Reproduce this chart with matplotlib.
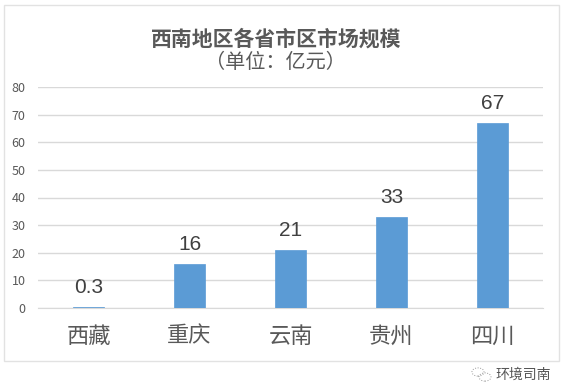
import matplotlib
matplotlib.use('Agg')
import matplotlib.pyplot as plt
from matplotlib.patches import Rectangle, Circle

plt.rcParams['font.family'] = ['Noto Sans CJK SC', 'DejaVu Sans']

provinces = ['西藏', '重庆', '云南', '贵州', '四川']
market_size = [0.3, 16, 21, 33, 67]
value_labels = ['0.3', '16', '21', '33', '67']
y_ticks = [0, 10, 20, 30, 40, 50, 60, 70, 80]

W, H = 562, 387
fig = plt.figure(figsize=(W / 100, H / 100), dpi=100, facecolor='white')

# outer chart frame
fig.add_artist(Rectangle((3.5 / W, 1 - 361 / H), 555 / W, 356 / H, transform=fig.transFigure,
                         fill=False, edgecolor='#e2e2e2', lw=1))

ax = fig.add_axes([38 / W, 1 - 308 / H, 505 / W, 221 / H])
ax.bar(range(5), market_size, width=0.307, color='#5b9bd5', edgecolor='#5b9bd5', lw=0.5, zorder=3)
ax.set_xlim(-0.5, 4.5)
ax.set_ylim(0, 80)
ax.set_yticks(y_ticks)
ax.set_xticks(range(5))
ax.set_xticklabels(provinces, fontsize=16, color='#595959')
ax.tick_params(axis='x', length=0, pad=12)
ax.tick_params(axis='y', length=0, pad=9, labelsize=9, labelcolor='#595959')
ax.grid(axis='y', color='#d9d9d9', lw=1, zorder=0)
ax.set_axisbelow(True)
for side in ['top', 'right', 'left']:
    ax.spines[side].set_visible(False)
ax.spines['bottom'].set_color('#d9d9d9')
ax.patch.set_alpha(0)

for i, v in enumerate(market_size):
    ax.annotate(value_labels[i], (i, v), xytext=(0, 7), textcoords='offset points',
                ha='center', va='bottom', fontsize=15, color='#404040',
                family=['Liberation Sans', 'DejaVu Sans'])

fig.text(276 / W, 1 - 39 / H, '西南地区各省市区市场规模', ha='center', va='center',
         fontsize=15, fontweight='bold', color='#595959')
fig.text(275 / W, 1 - 63 / H, '（单位：亿元）', ha='center', va='center',
         fontsize=14.5, color='#595959')

# watermark
fig.text(523 / W, 1 - 375 / H, '环境司南', ha='center', va='center', fontsize=10, color='#555555')
for cx, cy, r in [(478, 372, 6), (485, 377, 6)]:
    fig.add_artist(Circle((cx / W, 1 - cy / H), r / W, transform=fig.transFigure,
                          fill=False, edgecolor='#999999', lw=0.7, ls=':'))

fig.savefig('out.png', dpi=100)
